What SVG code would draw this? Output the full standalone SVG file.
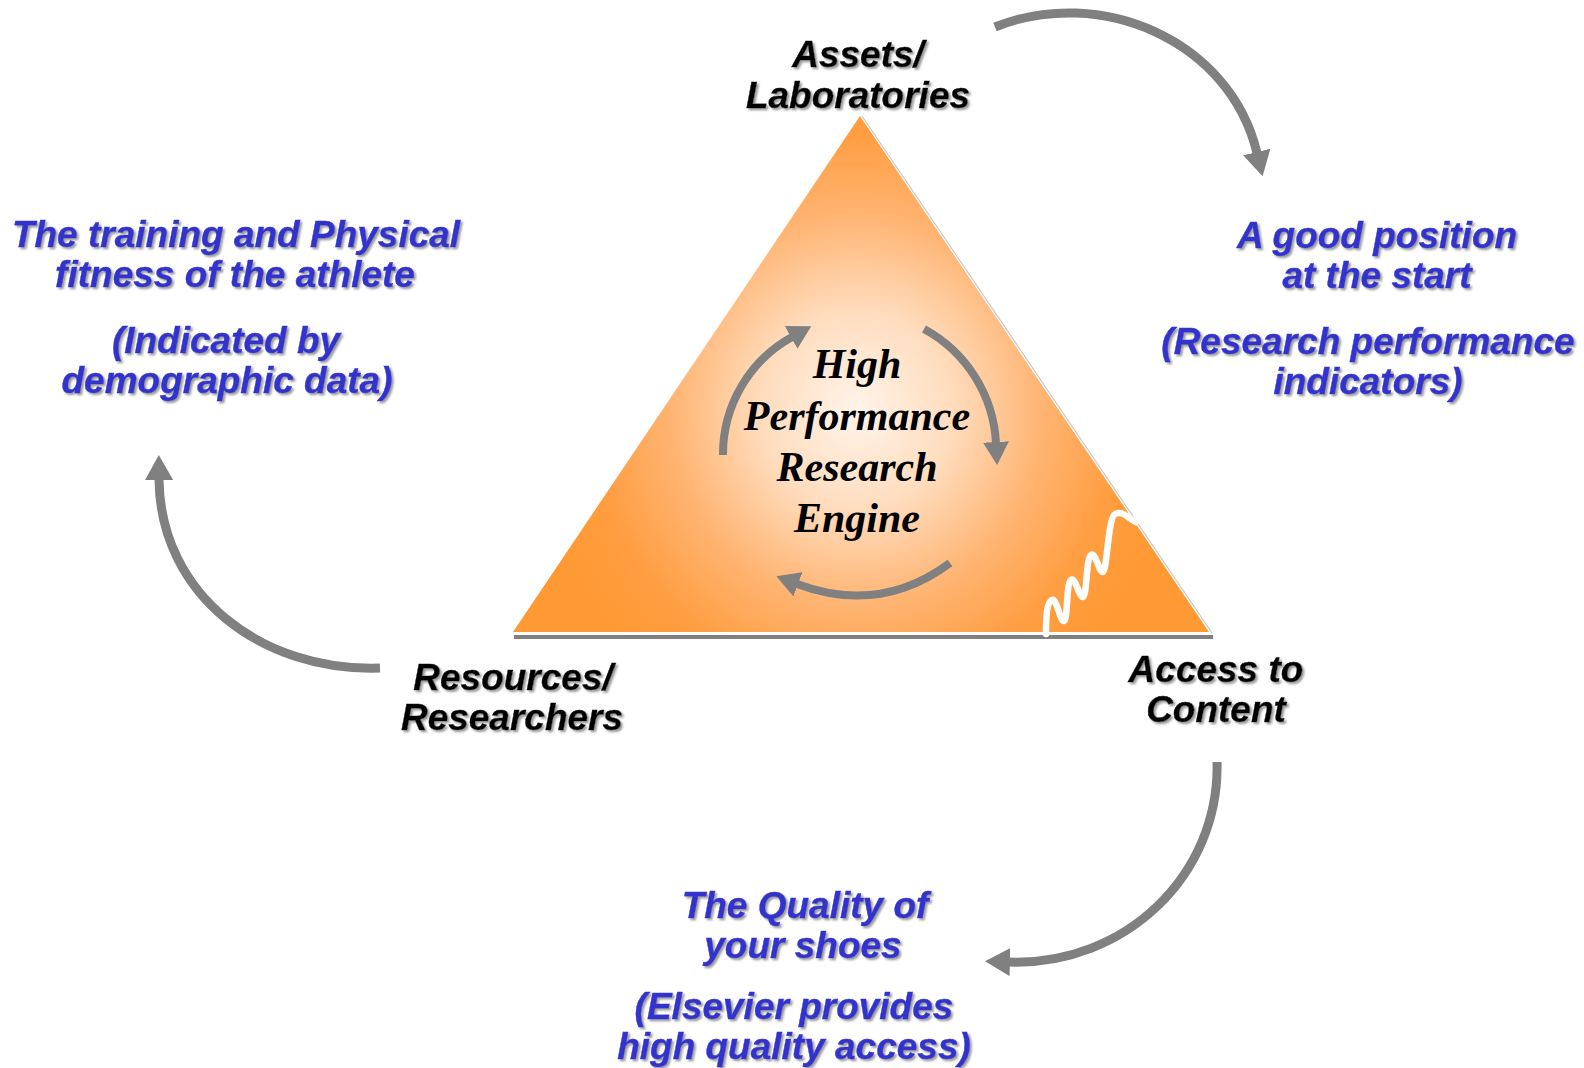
<svg xmlns="http://www.w3.org/2000/svg" width="1584" height="1068" viewBox="0 0 1584 1068">
<style>
.lbl{font-family:"Liberation Sans",Arial,sans-serif;font-weight:bold;font-style:italic;font-size:37px;text-anchor:middle;filter:url(#sh)}
.blk{fill:#000;stroke:#000;stroke-width:0.4}
.blu{fill:#3333CC;stroke:#3333CC;stroke-width:0.4}
.eng{font-family:"Liberation Serif","Times New Roman",serif;font-weight:bold;font-style:italic;font-size:42px;text-anchor:middle;fill:#000}
.arr{fill:none;stroke:#808080;stroke-width:9}
.iarr{fill:none;stroke:#808080;stroke-width:8}
</style>
<defs>
<filter id="sh" x="-10%" y="-30%" width="120%" height="160%">
<feDropShadow dx="2" dy="2" stdDeviation="0.8" flood-color="#9a9a9a" flood-opacity="1"/>
</filter>
<radialGradient id="tg" gradientUnits="userSpaceOnUse" cx="857" cy="410" r="320" gradientTransform="translate(857 410) scale(1 1.05) translate(-857 -410)">
<stop offset="0" stop-color="#FFF4EA"/>
<stop offset="0.3" stop-color="#FFDCBD"/>
<stop offset="0.58" stop-color="#FFB472"/>
<stop offset="0.82" stop-color="#FF9E42"/>
<stop offset="1" stop-color="#FF9933"/>
</radialGradient>
<marker id="ah" markerUnits="userSpaceOnUse" markerWidth="26" markerHeight="28" viewBox="0 0 26 28" refX="1" refY="14" orient="auto">
<path d="M0,0 L25,14 L0,28 z" fill="#808080"/>
</marker>
<marker id="ih" markerUnits="userSpaceOnUse" markerWidth="24" markerHeight="26" viewBox="0 0 24 26" refX="1" refY="13" orient="auto">
<path d="M0,0 L23,13 L0,26 z" fill="#808080"/>
</marker>
</defs>
<rect width="1584" height="1068" fill="#fff"/>

<g id="triangle">
<line x1="862" y1="116" x2="1212" y2="633" stroke="#c8c8c8" stroke-width="1.2"/>
<rect x="514" y="635" width="699" height="4" fill="#808080"/>
<polygon points="860,116 513,632 1209,632" fill="url(#tg)"/>
<path d="M1046,634 C1046,615 1047,602 1052,600 C1057,598 1060,622 1064,621 C1068,620 1066,583 1071,580 C1076,577 1079,598 1083,597 C1087,596 1086,558 1091,555 C1096,552 1099,573 1103,572 C1107,571 1108,518 1115,514 C1122,510 1128,518 1136,522" fill="none" stroke="#fff" stroke-width="6.5" stroke-linecap="round" stroke-linejoin="round"/>
</g>

<g id="engine">
<text class="eng" x="857" y="378">High</text>
<text class="eng" x="857" y="430">Performance</text>
<text class="eng" x="857" y="481">Research</text>
<text class="eng" x="857" y="532">Engine</text>
</g>

<g id="connectors">
<path class="arr" d="M995,27 C1100,-15 1230,40 1257,153" marker-end="url(#ah)"/>
<path class="arr" d="M1217,762 C1220,875 1125,966 1009,962" marker-end="url(#ah)"/>
<path class="arr" d="M380,668 C262,672 160,595 159,479" marker-end="url(#ah)"/>
<path class="iarr" d="M723,455 A134,134 0 0 1 792,337" marker-end="url(#ih)"/>
<path class="iarr" d="M924,329 A138,138 0 0 1 996,443" marker-end="url(#ih)"/>
<path class="iarr" d="M950,563 Q880,615 797,584" marker-end="url(#ih)"/>
</g>

<g id="assets">
<text class="lbl blk" x="858" y="67">Assets/</text>
<text class="lbl blk" x="858" y="108">Laboratories</text>
</g>
<g id="resources">
<text class="lbl blk" x="513" y="690">Resources/</text>
<text class="lbl blk" x="512" y="730">Researchers</text>
</g>
<g id="access">
<text class="lbl blk" x="1216" y="682">Access to</text>
<text class="lbl blk" x="1216" y="722">Content</text>
</g>
<g id="training">
<text class="lbl blu" x="236" y="247">The training and Physical</text>
<text class="lbl blu" x="235" y="287">fitness of the athlete</text>
<text class="lbl blu" x="226" y="353">(Indicated by</text>
<text class="lbl blu" x="227" y="393">demographic data)</text>
</g>
<g id="position">
<text class="lbl blu" x="1377" y="248">A good position</text>
<text class="lbl blu" x="1377" y="288">at the start</text>
<text class="lbl blu" x="1368" y="354">(Research performance</text>
<text class="lbl blu" x="1368" y="394">indicators)</text>
</g>
<g id="shoes">
<text class="lbl blu" x="805" y="918">The Quality of</text>
<text class="lbl blu" x="803" y="958">your shoes</text>
<text class="lbl blu" x="794" y="1019">(Elsevier provides</text>
<text class="lbl blu" x="794" y="1059">high quality access)</text>
</g>
</svg>
